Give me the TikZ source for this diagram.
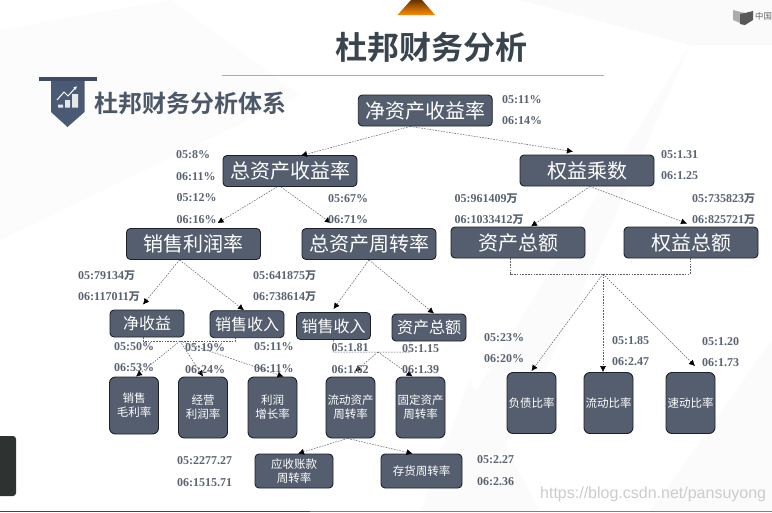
\documentclass[tikz,border=0pt]{standalone}
\usepackage{fontspec}
\usetikzlibrary{arrows.meta}
\setmainfont{Liberation Serif}
\newfontfamily\cjk{Noto Sans CJK SC}
\newfontfamily\cjkb{Noto Sans CJK SC Bold}
\newfontfamily\wm{Liberation Sans}
\definecolor{boxfill}{HTML}{545E6E}
\definecolor{boxline}{HTML}{1C2129}
\definecolor{labgrey}{HTML}{5A6372}
\definecolor{conn}{HTML}{5A5F68}
\definecolor{badge}{HTML}{4A5A75}
\definecolor{titlecol}{HTML}{3A444E}
\definecolor{subcol}{HTML}{4C5868}
\definecolor{tabcol}{HTML}{2E3230}
\newcommand{\wan}{{\cjkb\fontsize{11}{11}\selectfont 万}}
\tikzset{
  x=1pt,y=-1pt,
  boxbase/.style={draw=boxline,line width=0.9pt,fill=boxfill,rounded corners=4pt,text=white,inner sep=0pt,align=center},
  bigbox/.style={boxbase,minimum width=134pt,minimum height=31pt,font=\cjk\fontsize{20}{22}\selectfont},
  midbox/.style={boxbase,minimum width=74pt,minimum height=27pt,font=\cjk\fontsize{16}{18}\selectfont},
  tallbox/.style={boxbase,minimum width=49pt,minimum height=61pt,rounded corners=6pt,font=\cjk\fontsize{11.5}{14}\selectfont},
  widebox/.style={boxbase,minimum height=34pt,font=\cjk\fontsize{11.5}{14}\selectfont},
  lab/.style={anchor=west,inner sep=0pt,text=labgrey,font=\bfseries\fontsize{12}{12}\selectfont},
  conline/.style={draw=conn,line width=0.5pt,dash pattern=on 1.6pt off 1.2pt},
  arr/.style={conline,-{Latex[length=6pt,width=6pt,color=black]}},
}
\begin{document}
\begin{tikzpicture}
\useasboundingbox (0,0) rectangle (772,512);
% background
\fill[white] (0,0) rectangle (772,512);
\fill[gray!4] (520,0) -- (772,0) -- (772,45) -- (690,45) -- cycle;
\fill[gray!2] (0,30) -- (170,0) -- (300,95) -- (0,240) -- cycle;
\fill[gray!3] (772,340) -- (772,512) -- (650,512) -- cycle;
\fill[gray!3] (470,380) -- (540,512) -- (420,512) -- cycle;
\fill[red!2!gray!3] (690,45) -- (560,340) -- (470,512) -- (440,450) -- cycle;
% top decorations
\shade[top color=black!60!orange,bottom color=orange!90!yellow,shading angle=0] (397.5,15) -- (411,0) -- (422,0) -- (435,15) -- cycle;
\fill[gray!65] (733,10) -- (745,13) -- (745,25) -- (733,20) -- cycle;
\fill[gray!70!black] (740,14) -- (745,13) -- (753,11) -- (753,20) -- (745,25) -- (740,24) -- cycle;
\node[anchor=west,inner sep=0pt,text=gray!80!black,font=\cjk\fontsize{8.4}{9}\selectfont] (lang) at (755,16) {中国};
% left tab, bottom strip
\fill[tabcol,rounded corners=3pt] (-6,436) rectangle (16,496);
\fill[green!45!black] (0,511) rectangle (310,512);
\fill[gray] (310,511) rectangle (772,512);
% titles
\node[inner sep=0pt,text=titlecol,font=\cjkb\fontsize{32}{34}\selectfont] (title) at (431.5,47) {杜邦财务分析};
\draw[gray!65,line width=1.5pt] (222,75.5) -- (604,75.5);
\fill[badge!85!black] (39,77) rectangle (97,81);
\fill[badge] (51,81) -- (84.5,81) -- (84.5,112) -- (67.5,127) -- (51,112) -- cycle;
\draw[white,line width=1pt,-{Latex[length=3.5pt,width=3.5pt]}] (57,100) -- (64,92) -- (68,96) -- (77,86);
\fill[white!85!badge] (58,104.5) rectangle (63,107.5) (65,100) rectangle (70,107.5) (72,94) rectangle (78,107.5);
\node[anchor=west,inner sep=0pt,text=subcol,font=\cjkb\fontsize{24}{26}\selectfont] (sub) at (94,103) {杜邦财务分析体系};
% boxes
\node[bigbox] (top) at (425.25,110.5) {净资产收益率};
\node[bigbox] (roa) at (290,171) {总资产收益率};
\node[bigbox] (em) at (587,170.5) {权益乘数};
\node[bigbox] (npm) at (193.5,244) {销售利润率};
\node[bigbox] (tat) at (369,244) {总资产周转率};
\node[bigbox] (ta) at (518,242.5) {资产总额};
\node[bigbox] (eq) at (691,242.5) {权益总额};
\node[midbox] (ni) at (147,323.5) {净收益};
\node[midbox] (s1) at (247,324.2) {销售收入};
\node[midbox] (s2) at (333.5,326) {销售收入};
\node[midbox] (ta2) at (429,327.5) {资产总额};
\node[tallbox,minimum height=57pt] (gm) at (134,405.5) {销售\\毛利率};
\node[tallbox] (om) at (203,407.5) {经营\\利润率};
\node[tallbox] (pg) at (272.5,407.5) {利润\\增长率};
\node[tallbox] (cat) at (350.5,407.5) {流动资产\\周转率};
\node[tallbox] (fat) at (420.5,407.5) {固定资产\\周转率};
\node[widebox,minimum width=78pt] (ar) at (294,471) {应收账款\\周转率};
\node[widebox,minimum width=81pt] (inv) at (421.5,471) {存货周转率};
\node[tallbox] (dr) at (531.5,403) {负债比率};
\node[tallbox] (cr) at (608.5,403) {流动比率};
\node[tallbox] (qr) at (690.5,403) {速动比率};
% junctions
\coordinate (j1) at (180,341);
\coordinate (j1l) at (143,341);
\coordinate (j1r) at (235,341);
\coordinate (j2) at (378,352);
\coordinate (j2l) at (333,352);
\coordinate (j2r) at (410,352);
\coordinate (j3) at (603,274);
\coordinate (j3l) at (510,274);
\coordinate (j3r) at (690,274);
% connectors
\draw[arr] ([xshift=-15pt]top.south) -- ([xshift=11pt,yshift=-0.5pt]roa.north);
\draw[arr] ([xshift=-15pt]top.south) -- ([xshift=-14pt,yshift=3pt]em.north);
\draw[arr] ([xshift=-13pt]roa.south) -- ([xshift=24pt,yshift=5pt]npm.north);
\draw[arr] ([xshift=-9pt]roa.south) -- ([xshift=-38pt,yshift=5pt]tat.north);
\draw[arr] ([xshift=3pt]em.south) -- ([xshift=13pt]ta.north);
\draw[arr] ([xshift=3pt]em.south) -- ([xshift=-4pt,yshift=3pt]eq.north);
\draw[arr] (npm.south) ++(-14pt,0) -- ([xshift=-4pt,yshift=5pt]ni.north);
\draw[arr] (npm.south) ++(-14pt,0) -- ([xshift=-3pt]s1.north);
\draw[arr] (tat.south) -- ([yshift=3pt]s2.north);
\draw[arr] (tat.south) -- ([xshift=5pt]ta2.north);
\draw[conline] (ni.south -| j1l) -- (j1l) -- (j1r) -- (s1.south -| j1r);
\draw[arr] (j1) -- ([xshift=2pt]gm.north);
\draw[arr] (j1) -- (om.north);
\draw[arr] (j1) -- ([xshift=11pt]pg.north);
\draw[conline] (s2.south) -- (j2l) -- (j2r) -- (ta2.south -| j2r);
\draw[arr] (j2) -- ([xshift=4.5pt,yshift=5pt]cat.north);
\draw[arr] (j2) -- ([xshift=-8pt]fat.north);
\draw[arr] ([xshift=-3pt]cat.south) -- ([xshift=4pt]ar.north);
\draw[arr] ([xshift=-3pt]cat.south) -- ([xshift=-9pt]inv.north);
\draw[conline] (ta.south -| j3l) -- (j3l) -- (j3r) -- (eq.south -| j3r);
\draw[arr] (j3) -- ([yshift=1pt]dr.north);
\draw[arr] (j3) -- (dr.north -| j3);
\draw[arr] (j3) -- ([xshift=4.5pt,yshift=6pt]qr.north);
% labels
\node[lab] (l01) at (502,100) {05:11\%};
\node[lab] (l02) at (502,121) {06:14\%};
\node[lab] (l03) at (176,155) {05:8\%};
\node[lab] (l04) at (176,176.5) {06:11\%};
\node[lab] (l05) at (176.5,197.5) {05:12\%};
\node[lab] (l06) at (176.5,219.5) {06:16\%};
\node[lab] (l07) at (328,199) {05:67\%};
\node[lab] (l08) at (328,220) {06:71\%};
\node[lab] (l09) at (661,155) {05:1.31};
\node[lab] (l10) at (661,176) {06:1.25};
\node[lab] (l11) at (454.5,198.5) {05:961409\wan};
\node[lab] (l12) at (454.5,220) {06:1033412\wan};
\node[lab] (l13) at (692,198.5) {05:735823\wan};
\node[lab] (l14) at (692,220) {06:825721\wan};
\node[lab] (l15) at (78,276) {05:79134\wan};
\node[lab] (l16) at (78,297) {06:117011\wan};
\node[lab] (l17) at (253,276) {05:641875\wan};
\node[lab] (l18) at (253,297) {06:738614\wan};
\node[lab] (l19) at (114,347) {05:50\%};
\node[lab] (l20) at (114,368) {06:53\%};
\node[lab] (l21) at (185,348) {05:19\%};
\node[lab] (l22) at (185,370) {06:24\%};
\node[lab] (l23) at (254,347) {05:11\%};
\node[lab] (l24) at (254,369) {06:11\%};
\node[lab] (l25) at (331.5,348) {05:1.81};
\node[lab] (l26) at (331.5,369.5) {06:1.62};
\node[lab] (l27) at (402,349) {05:1.15};
\node[lab] (l28) at (402,370) {06:1.39};
\node[lab] (l29) at (484,338) {05:23\%};
\node[lab] (l30) at (484,359) {06:20\%};
\node[lab] (l31) at (612,341) {05:1.85};
\node[lab] (l32) at (612,362) {06:2.47};
\node[lab] (l33) at (702,341.5) {05:1.20};
\node[lab] (l34) at (702,363) {06:1.73};
\node[lab] (l35) at (177,461) {05:2277.27};
\node[lab] (l36) at (177,482.5) {06:1515.71};
\node[lab] (l37) at (477,460) {05:2.27};
\node[lab] (l38) at (477,482) {06:2.36};
% watermark
\node[anchor=west,inner sep=0pt,text=gray!40,font=\wm\fontsize{16}{17}\selectfont] (wm) at (540,494) {https://blog.csdn.net/pansuyong};
\end{tikzpicture}
\end{document}
